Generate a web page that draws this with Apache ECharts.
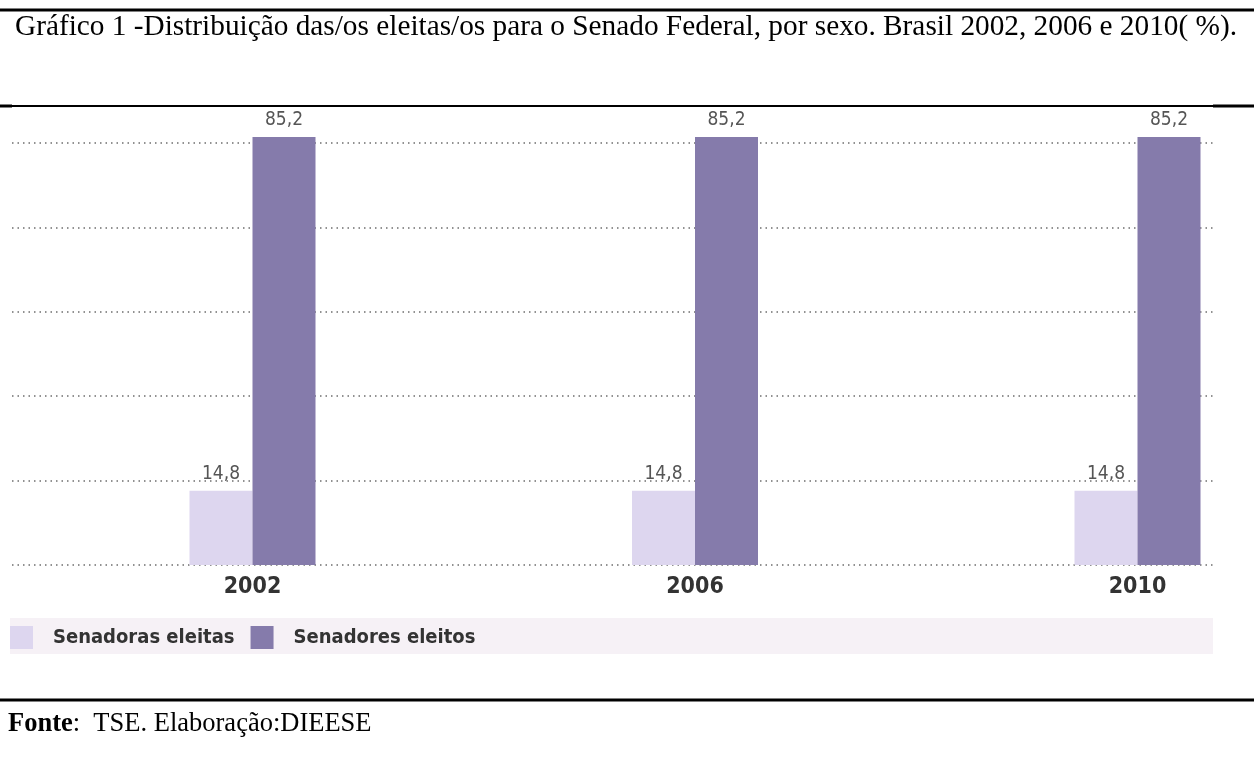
<!DOCTYPE html>
<html>
<head>
<meta charset="utf-8">
<script src="https://cdn.jsdelivr.net/npm/echarts@6/dist/echarts.min.js"></script>
<style>
html,body{margin:0;padding:0;background:#fff;}
#chart{width:1254px;height:778px;}
</style>
</head>
<body>
<div id="chart"></div>
<script>
var categories = ['2002', '2006', '2010'];
var seriesNames = ['Senadoras eleitas', 'Senadores eleitos'];
var senadoras = [14.8, 14.8, 14.8];
var senadores = [85.2, 85.2, 85.2];
var titleText = 'Gráfico 1 -Distribuição das/os eleitas/os para o Senado Federal, por sexo. Brasil 2002, 2006 e 2010( %).';
var sourceBold = 'Fonte';
var sourceRest = ':  TSE. Elaboração:DIEESE';

var narrow = "'Liberation Sans Narrow', 'DejaVu Sans Condensed', sans-serif";
var serif = "'Liberation Serif', 'Times New Roman', serif";

var chart = echarts.init(document.getElementById('chart'), null, {renderer: 'canvas'});

function fmt(p) { return String(p.value).replace('.', ','); }

var yCommon = {min: 0, max: 84, interval: 16.8};

var option = {
  backgroundColor: '#ffffff',
  animation: false,
  title: [{
    text: titleText,
    left: 10,
    top: 8,
    textStyle: {fontFamily: serif, fontSize: 29.3, fontWeight: 'normal', color: '#000'}
  }, {
    text: '{b|' + sourceBold + '}{r|' + sourceRest + '}',
    left: 3,
    top: 706,
    textStyle: {
      rich: {
        b: {fontFamily: serif, fontSize: 26.5, fontWeight: 'bold', color: '#000'},
        r: {fontFamily: serif, fontSize: 26.5, fontWeight: 'normal', color: '#000'}
      }
    }
  }],
  legend: {
    data: seriesNames,
    left: 5,
    top: 621,
    itemWidth: 23,
    itemHeight: 23,
    itemGap: 16,
    icon: 'rect',
    textStyle: {fontFamily: narrow, fontSize: 20, fontWeight: 'bold', color: '#333', padding: [0, 0, 0, 15]}
  },
  graphic: [
    {type: 'rect', z: -1, shape: {x: 10, y: 618, width: 1203, height: 36}, style: {fill: '#f6f1f6'}},
    {type: 'line', shape: {x1: 0, y1: 10, x2: 1254, y2: 10}, style: {stroke: '#000', lineWidth: 3}},
    {type: 'line', shape: {x1: 0, y1: 106, x2: 1254, y2: 106}, style: {stroke: '#000', lineWidth: 2}},
    {type: 'line', shape: {x1: 0, y1: 106, x2: 12, y2: 106}, style: {stroke: '#000', lineWidth: 3}},
    {type: 'line', shape: {x1: 1213, y1: 106, x2: 1254, y2: 106}, style: {stroke: '#000', lineWidth: 3}},
    {type: 'line', shape: {x1: 0, y1: 700, x2: 1254, y2: 700}, style: {stroke: '#000', lineWidth: 3}}
  ],
  grid: [
    {left: 12, right: 41, top: 143, bottom: 213},
    {left: 252.5, right: 116.5, top: 143, bottom: 213}
  ],
  xAxis: [
    {gridIndex: 0, type: 'category', data: categories, show: false},
    {
      gridIndex: 1, type: 'category', data: categories, boundaryGap: false,
      axisLine: {show: false}, axisTick: {show: false}, splitLine: {show: false},
      axisLabel: {margin: 11, fontFamily: narrow, fontSize: 23, fontWeight: 'bold', color: '#333'}
    }
  ],
  yAxis: [
    Object.assign({gridIndex: 0, type: 'value',
      axisLine: {show: false}, axisTick: {show: false}, axisLabel: {show: false},
      splitLine: {show: true, lineStyle: {color: '#6e6e6e', width: 1.5, type: [1.5, 4]}}
    }, yCommon),
    Object.assign({gridIndex: 1, type: 'value', show: false, splitLine: {show: false}}, yCommon)
  ],
  series: [
    {
      name: seriesNames[0], type: 'bar', xAxisIndex: 1, yAxisIndex: 1,
      data: senadoras, barWidth: 63, barGap: '0%', clip: false,
      itemStyle: {color: '#ddd6ef'},
      label: {show: true, position: 'top', distance: 7, formatter: fmt,
        fontFamily: narrow, fontSize: 19, color: '#555'}
    },
    {
      name: seriesNames[1], type: 'bar', xAxisIndex: 1, yAxisIndex: 1,
      data: senadores, barWidth: 63, barGap: '0%', clip: false,
      itemStyle: {color: '#857bab'},
      label: {show: true, position: 'top', distance: 7, formatter: fmt,
        fontFamily: narrow, fontSize: 19, color: '#555'}
    }
  ]
};
chart.setOption(option);
</script>
</body>
</html>
